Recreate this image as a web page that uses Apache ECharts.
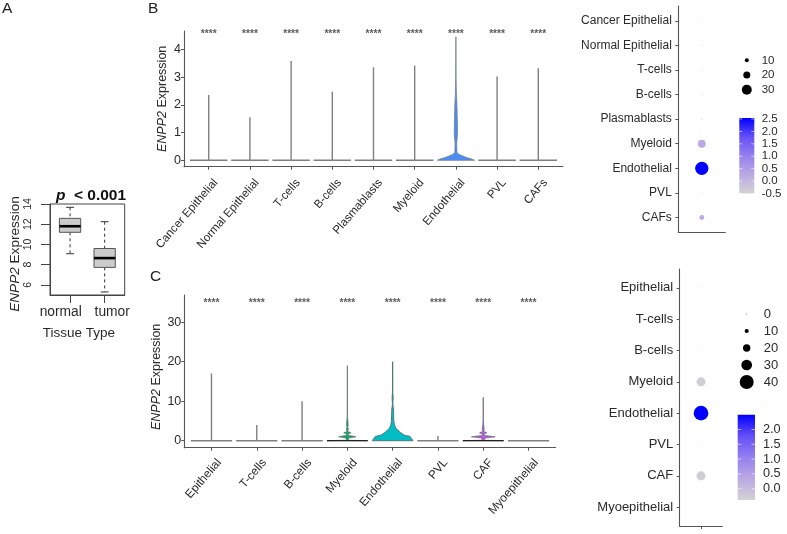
<!DOCTYPE html>
<html><head><meta charset="utf-8">
<style>html,body{margin:0;padding:0;background:#fff}#c{width:787px;height:534px}</style>
<script src="https://cdn.jsdelivr.net/npm/echarts@6/dist/echarts.min.js"></script>
</head><body><div id="c"></div>
<script>
// ---------- Panel A ----------
const tissue = ['normal','tumor'];
const boxStats = [[9.08,11.2,11.8,12.58,13.67],[5.3,7.73,8.65,9.6,12.25]]; // min,q1,median,q3,max
const ticksA = [6,8,10,12,14];
// ---------- Panel B ----------
const cellsB = ['Cancer Epithelial','Normal Epithelial','T-cells','B-cells','Plasmablasts','Myeloid','Endothelial','PVL','CAFs'];
const ticksB = [0,1,2,3,4];
const violinMaxB = [2.35,1.55,3.58,2.47,3.35,3.42,4.45,3.02,3.32];
const endoProfileB = [[0,.45],[.05,.38],[.1,.26],[.2,.09],[.28,.025],[.6,.02],[1,.04],[1.5,.033],[2,.025],[2.4,.012],[3,.003],[4.45,0]];
const pctB = [.2,.2,.2,.2,.2,23,41,.2,13];
const exprB = [-.45,-.45,-.45,-.45,-.45,.25,2.54,-.45,.25];
const sizeLegendB = [10,20,30];
const barTicksB = [-.5,0,.5,1,1.5,2,2.5];
// ---------- Panel C ----------
const cellsC = ['Epithelial','T-cells','B-cells','Myeloid','Endothelial','PVL','CAF','Myoepithelial'];
const ticksC = [0,10,20,30];
const violinMaxC = [17,4,10,19,20,1.2,11,.1];
const myeloidProfileC = [[0,.45],[.12,.015],[.7,.03],[.8,.1],[1,.19],[1.2,.1],[1.3,.02],[1.75,.02],[1.85,.05],[2,.08],[2.15,.05],[2.3,.012],[2.8,.012],[3,.03],[3.2,.006],[4,.018],[5,.012],[6,.004],[19,0]];
const endoProfileC = [[0,.45],[.5,.42],[1.1,.38],[1.4,.26],[2,.18],[2.6,.12],[3.2,.07],[4,.04],[5,.025],[8,.02],[8.6,.01],[9.5,.005],[11,.012],[12,.004],[20,0]];
const cafProfileC = [[0,.45],[.12,.015],[.7,.04],[.8,.12],[1,.26],[1.2,.12],[1.3,.02],[1.75,.02],[1.85,.05],[2,.08],[2.15,.05],[2.3,.012],[3,.02],[4,.01],[5,.004],[11,0]];
const pctC = [.3,.2,.2,25,42,.2,25,.2];
const exprC = [-.35,-.38,-.38,-.3,2.5,-.38,-.3,-.38];
const sizeLegendC = [0,10,20,30,40];
const barTicksC = [0,.5,1,1.5,2];
const stars = '****';

const F = '"Liberation Sans", Arial, sans-serif';
const TXT = '#2a2a2a', AX = '#555';
const ramp = ['#d3d3d3','#bba9e4','#9580ee','#6550f7','#0000ff'];

const grids=[], xAxes=[], yAxes=[], series=[], visualMaps=[], graphics=[];
function addGrid(l,t,r,b,xa,ya){
  grids.push({left:l,top:t,width:r-l,height:b-t,show:false});
  const i=grids.length-1;
  xAxes.push(Object.assign({gridIndex:i,type:'value',splitLine:{show:false}},xa));
  yAxes.push(Object.assign({gridIndex:i,type:'value',splitLine:{show:false}},ya));
  return i;
}
const seq=a=>a.map((_,i)=>i+1);
const line=(w=1,c=AX)=>({show:true,onZero:false,lineStyle:{color:c,width:w}});
const ylabelName=(sz,pad,gap)=>({name:'{i|ENPP2} Expression',nameLocation:'middle',nameGap:gap,
  nameTextStyle:{color:TXT,fontFamily:F,fontSize:sz,padding:pad,rich:{i:{fontStyle:'italic',fontFamily:F,fontSize:sz,color:TXT}}}});

// ---- Panel A
(function(){
  const g=addGrid(50,204,124.7,295,
   {min:.42,max:2.58,axisLine:line(1,'#444'),
    axisTick:{customValues:[1,2],length:8,lineStyle:{color:'#444'}},
    axisLabel:{customValues:[.73,2.22],formatter:v=>v<1.5?tissue[0]:tissue[1],margin:10,fontFamily:F,fontSize:13.8,color:TXT},
    name:'Tissue Type',nameLocation:'middle',nameGap:31,nameTextStyle:{color:TXT,fontFamily:F,fontSize:13.5,padding:[0,17,0,0]}},
   Object.assign({min:5,max:14,axisLine:line(1,'#444'),
    axisTick:{customValues:ticksA,length:9,lineStyle:{color:'#444'}},
    axisLabel:{customValues:ticksA,rotate:90,margin:16,fontFamily:F,fontSize:10.5,color:TXT}},ylabelName(13.6,[0,9,0,0],28)));
  grids[g].show=true; grids[g].borderColor='#444'; grids[g].borderWidth=1; grids[g].backgroundColor='transparent';
  series.push({type:'custom',xAxisIndex:g,yAxisIndex:g,coordinateSystem:'cartesian2d',
    data:boxStats.map((s,i)=>[i+1,...s]),encode:{x:0,y:[1,5]},
    renderItem(p,api){
      const x=api.value(0),[lo,q1,m,q3,hi]=[1,2,3,4,5].map(k=>api.value(k));
      const hw=.308,cw=.115,P=(a,b)=>api.coord([a,b]);
      const seg=(a,b,st)=>({type:'line',shape:{x1:a[0],y1:a[1],x2:b[0],y2:b[1]},style:st});
      const dash={stroke:'#333',lineWidth:1,lineDash:[3,3]},sol={stroke:'#333',lineWidth:1};
      const a=P(x-hw,q3),b=P(x+hw,q1);
      return {type:'group',children:[
        seg(P(x,hi),P(x,q3),dash),seg(P(x,q1),P(x,lo),dash),
        seg(P(x-cw,hi),P(x+cw,hi),sol),seg(P(x-cw,lo),P(x+cw,lo),sol),
        {type:'rect',shape:{x:a[0],y:a[1],width:b[0]-a[0],height:b[1]-a[1]},style:{fill:'#cbcbcb',stroke:'#555',lineWidth:1}},
        seg(P(x-hw,m),P(x+hw,m),{stroke:'#000',lineWidth:2.6})
      ]};
    }});
})();

// ---- Violin helper
function violinPanel(cats,l,t,r,b,ymin,ymax,ticks,maxes,profiles,nameCfg,starY,fs,mg,shift){
  const g=addGrid(l,t,r,b,
   {min:.4,max:cats.length+.6,axisLine:line(1.1,AX),
    axisTick:{customValues:seq(cats),length:3,lineStyle:{color:AX}},
    axisLabel:{customValues:cats.map((_,i)=>i+1+shift),formatter:v=>cats[Math.round(v-shift)-1],rotate:49,margin:mg,fontFamily:F,fontSize:fs,color:TXT,hideOverlap:false}},
   Object.assign({min:ymin,max:ymax,axisLine:line(1.1,AX),
    axisTick:{customValues:ticks,length:3,lineStyle:{color:AX}},
    axisLabel:{customValues:ticks,margin:3,fontFamily:F,fontSize:12.5,color:TXT}},ylabelName(12.5,nameCfg.pad,nameCfg.gap)));
  series.push({type:'custom',xAxisIndex:g,yAxisIndex:g,coordinateSystem:'cartesian2d',
    data:cats.map((_,i)=>[i+1,maxes[i]]),encode:{x:0,y:1},
    renderItem(p,api){
      const x=api.value(0),i=p.dataIndex,pr=profiles[i]||{};
      const prof=pr.shape||[[0,.455],[0,0],[api.value(1),0]];
      const right=prof.map(d=>api.coord([x+d[1],d[0]]));
      const left=prof.slice().reverse().map(d=>api.coord([x-d[1],d[0]]));
      const kids=[{type:'polygon',shape:{points:right.concat(left)},
        style:{fill:pr.fill||'#808080',stroke:pr.stroke||'#808080',lineWidth:pr.lw||1.4}}];
      if(pr.base){
        const a=api.coord([x-.45,0]),c=api.coord([x+.45,0]);
        kids.push({type:'line',shape:{x1:a[0],y1:a[1],x2:c[0],y2:c[1]},style:{stroke:pr.base,lineWidth:1.2}});
      }
      return {type:'group',children:kids};
    }});
  series.push({type:'scatter',xAxisIndex:g,yAxisIndex:g,symbolSize:0,silent:true,
    data:cats.map((_,i)=>[i+1,starY]),
    label:{show:true,position:'inside',formatter:stars,fontFamily:F,fontSize:10.2,color:'#333',fontWeight:'bold'}});
}
// ---- Dot plot helper
function dotPanel(cats,l,t,r,b,pct,expr,sizeFn,lab,xtick,vmin,vmax,fs){
  const g=addGrid(l,t,r,b,
   {min:0,max:1,axisLine:line(1.1,AX),axisLabel:{show:false},
    axisTick:xtick?{customValues:[.5],length:3,lineStyle:{color:AX}}:{show:false}},
   {min:.4,max:cats.length+.6,inverse:true,axisLine:line(1.1,AX),
    axisTick:{customValues:seq(cats),length:3,lineStyle:{color:AX}},
    axisLabel:{customValues:seq(cats),formatter:v=>cats[Math.round(v)-1],margin:lab,fontFamily:F,fontSize:fs,color:TXT}});
  series.push({type:'scatter',xAxisIndex:g,yAxisIndex:g,silent:true,itemStyle:{opacity:1},
    data:cats.map((_,i)=>[.5,i+1,expr[i],pct[i]]),symbolSize:d=>sizeFn(d[3])});
  visualMaps.push({show:false,seriesIndex:series.length-1,dimension:2,min:vmin,max:vmax,inRange:{color:ramp}});
}
function sizeLegend(vals,l,t,r,b,sizeFn,fs,mg){
  const g=addGrid(l,t,r,b,{min:0,max:1,show:false},
   {type:'category',data:vals.map(String),inverse:true,position:'right',axisLine:{show:false},axisTick:{show:false},
    axisLabel:{interval:0,hideOverlap:false,margin:mg,fontFamily:F,fontSize:fs,color:TXT}});
  series.push({type:'scatter',xAxisIndex:g,yAxisIndex:g,silent:true,itemStyle:{color:'#000',opacity:1},
    data:vals.map(v=>[.5,String(v),v]),symbolSize:d=>sizeFn(d[2])});
}
function colorBar(ticks,l,t,r,b,vmin,vmax,fs,mg){
  const g=addGrid(l,t,r,b,{min:0,max:1,show:false},
   {min:vmin,max:vmax,position:'right',axisLine:{show:false},axisTick:{show:false},
    axisLabel:{customValues:ticks,formatter:v=>v.toFixed(1),margin:mg,fontFamily:F,fontSize:fs,color:TXT}});
  series.push({type:'custom',xAxisIndex:g,yAxisIndex:g,coordinateSystem:'cartesian2d',silent:true,
    data:ticks.map(v=>[v]),encode:{y:0},
    renderItem(p,api){
      const v=api.value(0),a=api.coord([0,v]),c=api.coord([1,v]),w=(c[0]-a[0])*.2;
      const kids=[];
      if(p.dataIndex===0){
        const tl=api.coord([0,vmax]),br=api.coord([1,vmin]);
        kids.push({type:'rect',z2:1,shape:{x:tl[0],y:tl[1],width:br[0]-tl[0],height:br[1]-tl[1]},
          style:{fill:{type:'linear',x:0,y:1,x2:0,y2:0,colorStops:ramp.map((cl,i)=>({offset:i/(ramp.length-1),color:cl}))}}});
      }
      const st={stroke:'#fff',lineWidth:.6};
      kids.push({type:'line',z2:2,shape:{x1:a[0],y1:a[1],x2:a[0]+w,y2:a[1]},style:st});
      kids.push({type:'line',z2:2,shape:{x1:c[0]-w,y1:c[1],x2:c[0],y2:c[1]},style:st});
      return {type:'group',children:kids};
    }});
}

const profB=cellsB.map(()=>null); profB[6]={shape:endoProfileB,fill:'#4a8df5',stroke:'#6f7f95',lw:.8};
const profC=cellsC.map(()=>null);
profC[3]={shape:myeloidProfileC,fill:'#0aa86a',stroke:'#5f7a70',lw:.8,base:'#222'};
profC[4]={shape:endoProfileC,fill:'#00bcc4',stroke:'#4a6f72',lw:.9};
profC[6]={shape:cafProfileC,fill:'#b45fe0',stroke:'#74687c',lw:.8,base:'#222'};

violinPanel(cellsB,184,31,563,166.7,-.23,4.66,ticksB,violinMaxB,profB,{pad:[0,0,0,0],gap:15},4.53,11.6,14,.17);
violinPanel(cellsC,184.3,295,555.7,447.7,-1.77,36.9,ticksC,violinMaxC,profC,{pad:[0,11,0,0],gap:17},34.75,11.8,13,.17);

const sizeFnB=p=>1+.3*p, sizeFnC=p=>.8+.33*p;
dotPanel(cellsB,678.3,6,725.3,232.3,pctB,exprB,sizeFnB,6.5,false,-.5,2.54,12);
dotPanel(cellsC,679.7,269,722.3,526,pctC,exprC,sizeFnC,6.5,true,-.38,2.5,13);
sizeLegend(sizeLegendB,739.3,53,754.3,97,sizeFnB,11.5,7.4);
sizeLegend(sizeLegendC,737.7,305.5,755.7,390.5,sizeFnC,13,8);
colorBar(barTicksB,739.3,118,754.3,193.5,-.5,2.54,11.5,7.4);
colorBar(barTicksC,737.7,414.7,755,500,-.38,2.5,12.7,8);

const letter=(t,x,y)=>({type:'text',x,y,style:{text:t,fontFamily:F,fontSize:15.5,fill:'#222'}});
graphics.push(letter('A',2,1),letter('B',148,1),letter('C',150,269));

const chart=echarts.init(document.getElementById('c'),null,{renderer:'canvas'});
chart.setOption({animation:false,backgroundColor:'#fff',
  title:[{text:'{p|p}  < 0.001',left:86,top:183,textAlign:'center',
    textStyle:{fontFamily:F,fontSize:15.5,fontWeight:'bold',color:'#111',
      rich:{p:{fontStyle:'italic',fontWeight:'bold',fontFamily:F,fontSize:15.5,color:'#111'}}}}],
  grid:grids,xAxis:xAxes,yAxis:yAxes,series,visualMap:visualMaps,graphic:graphics});
</script></body></html>
